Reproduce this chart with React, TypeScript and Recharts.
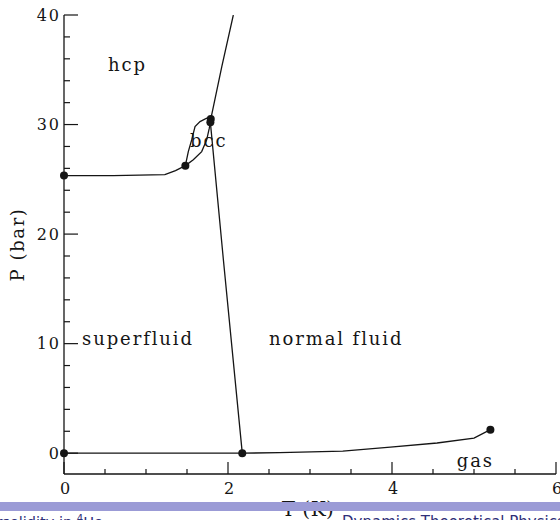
import React from "react";
import {
  ComposedChart,
  XAxis,
  YAxis,
  Line,
  Scatter,
  ReferenceDot,
} from "recharts";

// phase boundaries of 4He (T in K, P in bar)
const HCP_LIQUID = [
  { t: 0, p: 25.34 },
  { t: 0.6, p: 25.34 },
  { t: 1.23, p: 25.42 },
  { t: 1.36, p: 25.8 },
  { t: 1.48, p: 26.25 },
];
const HCP_BCC = [
  { t: 1.48, p: 26.25 },
  { t: 1.516, p: 27.53 },
  { t: 1.557, p: 28.6 },
  { t: 1.598, p: 29.82 },
  { t: 1.659, p: 30.27 },
  { t: 1.74, p: 30.58 },
  { t: 1.79, p: 30.5 },
];
const BCC_LIQUID = [
  { t: 1.48, p: 26.25 },
  { t: 1.577, p: 26.78 },
  { t: 1.679, p: 27.53 },
  { t: 1.74, p: 28.6 },
  { t: 1.772, p: 29.67 },
  { t: 1.785, p: 30.2 },
];
const MELTING_HIGH = [
  { t: 1.79, p: 30.5 },
  { t: 1.925, p: 35.3 },
  { t: 2.065, p: 40 },
];
const LAMBDA_LINE = [
  { t: 1.785, p: 30.2 },
  { t: 1.944, p: 17.64 },
  { t: 2.174, p: 0 },
];
const VAPOR = [
  { t: 0, p: 0 },
  { t: 2.174, p: 0 },
  { t: 2.63, p: 0.05 },
  { t: 3.4, p: 0.18 },
  { t: 3.98, p: 0.55 },
  { t: 4.55, p: 0.93 },
  { t: 5.0, p: 1.37 },
  { t: 5.2, p: 2.15 },
];
const SPECIAL_POINTS = [
  { t: 0, p: 0 },
  { t: 2.174, p: 0 },
  { t: 5.2, p: 2.15 },
  { t: 0, p: 25.34 },
  { t: 1.48, p: 26.25 },
  { t: 1.79, p: 30.5 },
  { t: 1.785, p: 30.2 },
];
const PHASE_LABELS = [
  { text: "hcp", t: 0.537, p: 34.9 },
  { text: "bcc", t: 1.537, p: 27.94 },
  { text: "superfluid", t: 0.22, p: 9.88 },
  { text: "normal fluid", t: 2.5, p: 9.88 },
  { text: "gas", t: 4.79, p: -1.23 },
];

const T_TICKS = [0, 0.5, 1, 1.5, 2, 2.5, 3, 3.5, 4, 4.5, 5, 5.5, 6];
const P_TICKS = [0, 2, 4, 6, 8, 10, 12, 14, 16, 18, 20, 22, 24, 26, 28, 30, 32, 34, 36, 38, 40];

const INK = "#151515";
const SERIF = "'DejaVu Serif', serif";
const AXIS_LINE = { stroke: INK, strokeWidth: 1.3 };

const BottomTick = (props: any) => {
  const { x, y, payload } = props;
  const major = payload.value % 2 === 0;
  return (
    <g>
      <line x1={x} y1={y} x2={x} y2={y - (major ? 12 : 5)} stroke={INK} strokeWidth={1.2} />
      {major && (
        <text x={x + 1} y={y + 14} textAnchor="middle" dominantBaseline="central" fontFamily={SERIF} fontSize={16} fill={INK}>
          {payload.value}
        </text>
      )}
    </g>
  );
};

const TopTick = (props: any) => {
  const { x, y, payload } = props;
  const major = payload.value % 2 === 0;
  return <line x1={x} y1={y} x2={x} y2={y + (major ? 12 : 5)} stroke={INK} strokeWidth={1.2} />;
};

const LeftTick = (props: any) => {
  const { x, y, payload } = props;
  const major = payload.value % 10 === 0;
  return (
    <g>
      <line x1={x} y1={y} x2={x + (major ? 14 : 6)} y2={y} stroke={INK} strokeWidth={1.2} />
      {major && (
        <text x={x - 3} y={y} textAnchor="end" dominantBaseline="central" fontFamily={SERIF} fontSize={16} letterSpacing={2} fill={INK}>
          {payload.value}
        </text>
      )}
    </g>
  );
};

const RightTick = (props: any) => {
  const { x, y, payload } = props;
  const major = payload.value % 10 === 0;
  return <line x1={x} y1={y} x2={x - (major ? 10 : 5)} y2={y} stroke={INK} strokeWidth={1.2} />;
};

const PLabel = (props: any) => {
  const vb = props.viewBox;
  const cx = vb.x + 13;
  const cy = vb.y + vb.height / 2;
  return (
    <text x={cx} y={cy} transform={`rotate(-90 ${cx} ${cy})`} textAnchor="middle" dominantBaseline="central" fontFamily={SERIF} fontSize={18} letterSpacing={1.6} fill={INK}>
      P (bar)
    </text>
  );
};

const TLabel = (props: any) => {
  const vb = props.viewBox;
  return (
    <text x={vb.x + vb.width / 2 - 2} y={vb.y + 42} textAnchor="middle" fontFamily={SERIF} fontSize={20} letterSpacing={0.5} fill={INK}>
      T (K)
    </text>
  );
};

const lineProps = {
  xAxisId: "b",
  yAxisId: "l",
  dataKey: "p",
  type: "linear" as const,
  stroke: INK,
  strokeWidth: 1.3,
  dot: false,
  activeDot: false,
  isAnimationActive: false,
};

export default function App() {
  return (
    <div style={{ position: "absolute", left: 0, top: 0, width: 560, height: 520, background: "#fff" }}>
      <ComposedChart width={560} height={520} margin={{ top: 15, right: 4, bottom: 0, left: 4 }}>
        <XAxis
          xAxisId="b"
          type="number"
          dataKey="t"
          domain={[0, 6]}
          ticks={T_TICKS}
          interval={0}
          height={46}
          tickSize={0}
          tickMargin={0}
          tickLine={false}
          axisLine={AXIS_LINE}
          tick={BottomTick}
          label={{ content: TLabel }}
        />
        <XAxis
          xAxisId="top"
          orientation="top"
          type="number"
          dataKey="t"
          domain={[0, 6]}
          ticks={T_TICKS}
          interval={0}
          height={0}
          tickSize={0}
          tickMargin={0}
          tickLine={false}
          axisLine={AXIS_LINE}
          tick={TopTick}
        />
        <YAxis
          yAxisId="l"
          type="number"
          domain={[-1.9, 40]}
          allowDataOverflow
          ticks={P_TICKS}
          interval={0}
          width={60}
          tickSize={0}
          tickMargin={0}
          tickLine={false}
          axisLine={AXIS_LINE}
          tick={LeftTick}
          label={{ content: PLabel }}
        />
        <YAxis
          yAxisId="r"
          orientation="right"
          type="number"
          domain={[-1.9, 40]}
          allowDataOverflow
          ticks={P_TICKS}
          interval={0}
          width={0}
          tickSize={0}
          tickMargin={0}
          tickLine={false}
          axisLine={AXIS_LINE}
          tick={RightTick}
        />

        <Line {...lineProps} data={HCP_LIQUID} />
        <Line {...lineProps} data={HCP_BCC} />
        <Line {...lineProps} data={BCC_LIQUID} />
        <Line {...lineProps} data={MELTING_HIGH} />
        <Line {...lineProps} data={LAMBDA_LINE} />
        <Line {...lineProps} data={VAPOR} />
        <Scatter
          xAxisId="b"
          yAxisId="l"
          data={SPECIAL_POINTS}
          dataKey="p"
          fill={INK}
          isAnimationActive={false}
          shape={(s: any) => <circle cx={s.cx} cy={s.cy} r={4} fill={INK} />}
        />

        {PHASE_LABELS.map((d) => (
          <ReferenceDot
            key={d.text}
            xAxisId="b"
            yAxisId="l"
            x={d.t}
            y={d.p}
            r={0}
            ifOverflow="visible"
            shape={(s: any) => (
              <text x={s.cx} y={s.cy} fontFamily={SERIF} fontSize={18} letterSpacing={1.9} fill={INK}>
                {d.text}
              </text>
            )}
          />
        ))}
      </ComposedChart>

      {/* slide footline, drawn over the bottom of the figure */}
      <svg width={560} height={520} style={{ position: "absolute", left: 0, top: 0, pointerEvents: "none" }}>
        <rect x={0} y={502} width={560} height={9} fill="#9b9bd6" />
        <text x={103} y={527} textAnchor="end" fontFamily="'DejaVu Sans', sans-serif" fontSize={14.5} fill="#2f2f78">
          Supersolidity in <tspan fontSize={10} dy={-5}>4</tspan>
          <tspan dy={5}>He</tspan>
        </text>
        <text x={342} y={527} fontFamily="'DejaVu Sans', sans-serif" fontSize={15} fill="#2f2f78">
          Dynamics Theoretical Physics
        </text>
      </svg>
    </div>
  );
}
